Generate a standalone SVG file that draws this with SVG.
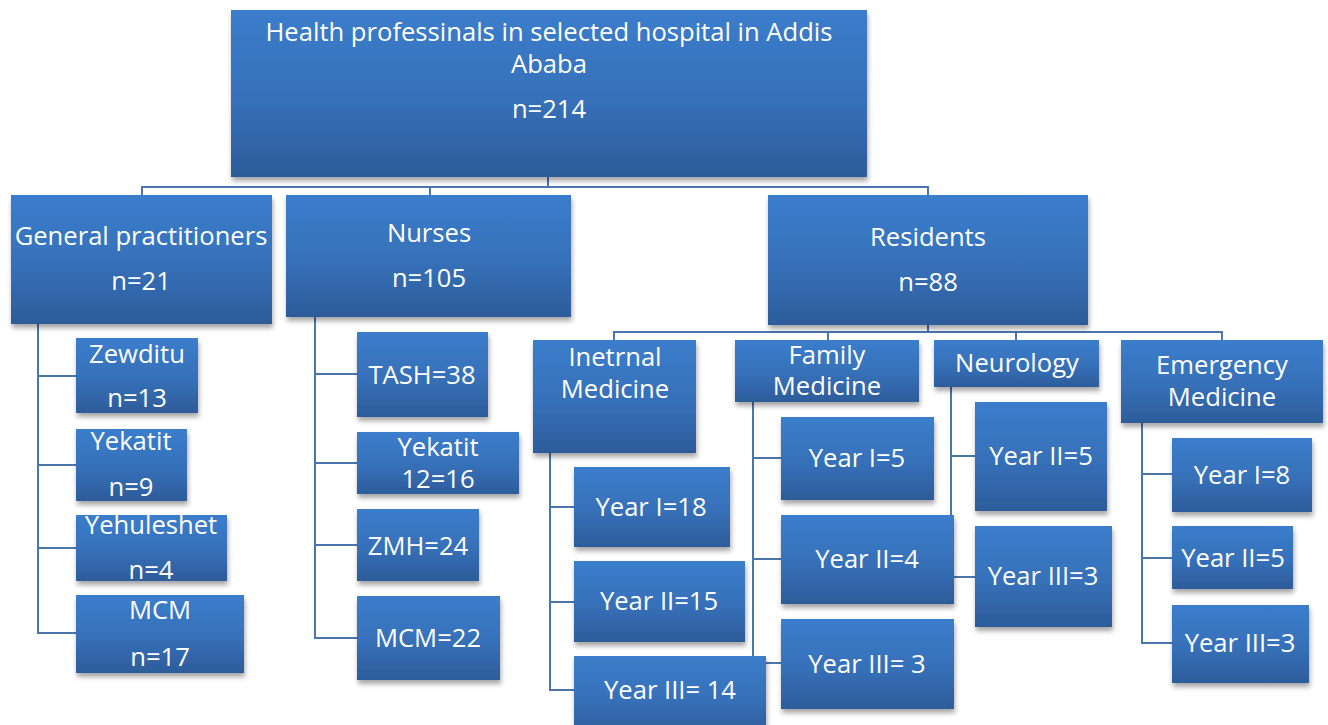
<svg xmlns="http://www.w3.org/2000/svg" width="1328" height="725" viewBox="0 0 1328 725">
<defs>
<linearGradient id="g" x1="0" y1="0" x2="0" y2="1">
<stop offset="0" stop-color="#3B7DCC"/>
<stop offset="0.55" stop-color="#3670B8"/>
<stop offset="1" stop-color="#2D5C9A"/>
</linearGradient>
<filter id="sh" x="-10%" y="-10%" width="125%" height="130%">
<feDropShadow dx="1" dy="4" stdDeviation="2.5" flood-color="#000" flood-opacity="0.35"/>
</filter>
<style>
.b{fill:url(#g);filter:url(#sh)}
.t{font-family:"Open Sans","Noto Sans",sans-serif;font-size:25.6px;fill:#fff;text-anchor:middle}
.c{fill:none;stroke:#4A76AC;stroke-width:2}
</style>
</defs>
<rect width="1328" height="725" fill="#fff"/>
<g id="connectors">
<path class="c" d="M548 177V187M142 195V187H928V195M430 187V195"/>
<path class="c" d="M38 324V633H76M38 376H76M38 465H76M38 548H76"/>
<path class="c" d="M315 317V638H357M315 374H357M315 463H357M315 545H357"/>
<path class="c" d="M928 325V332M614 340V332H1222V340M828 332V340M1016 332V340"/>
<path class="c" d="M550 453V690H574M550 507H574M550 602H574"/>
<path class="c" d="M753 402V663H781M753 458H781M753 559H781"/>
<path class="c" d="M951 387V577H975M951 456H975"/>
<path class="c" d="M1142 423V643H1172M1142 474H1172M1142 558H1172"/>
</g>
<g id="root"><rect class="b" x="231" y="10" width="636" height="167"/>
<text class="t" x="549" y="41">Health professinals in selected hospital in Addis</text>
<text class="t" x="549" y="73">Ababa</text>
<text class="t" x="549" y="118">n=214</text></g>
<g id="gp"><rect class="b" x="11" y="195" width="261" height="129"/>
<text class="t" x="141" y="245">General practitioners</text>
<text class="t" x="141" y="290">n=21</text></g>
<g id="nurses"><rect class="b" x="286" y="195" width="285" height="122"/>
<text class="t" x="429" y="242">Nurses</text>
<text class="t" x="429" y="287">n=105</text></g>
<g id="residents"><rect class="b" x="768" y="195" width="320" height="130"/>
<text class="t" x="928" y="246">Residents</text>
<text class="t" x="928" y="291">n=88</text></g>
<g id="zewditu"><rect class="b" x="76" y="338" width="122" height="75"/>
<text class="t" x="137" y="363">Zewditu</text>
<text class="t" x="137" y="407">n=13</text></g>
<g id="yekatit-gp"><rect class="b" x="76" y="429" width="111" height="72"/>
<text class="t" x="131" y="450">Yekatit</text>
<text class="t" x="131" y="496">n=9</text></g>
<g id="yehuleshet"><rect class="b" x="76" y="515" width="151" height="66"/>
<text class="t" x="151" y="534">Yehuleshet</text>
<text class="t" x="151" y="579">n=4</text></g>
<g id="mcm-gp"><rect class="b" x="76" y="595" width="168" height="78"/>
<text class="t" x="160" y="619">MCM</text>
<text class="t" x="160" y="666">n=17</text></g>
<g id="tash"><rect class="b" x="357" y="332" width="131" height="85"/>
<text class="t" x="422" y="384">TASH=38</text></g>
<g id="yekatit-n"><rect class="b" x="357" y="432" width="162" height="62"/>
<text class="t" x="438" y="456">Yekatit</text>
<text class="t" x="438" y="488">12=16</text></g>
<g id="zmh"><rect class="b" x="357" y="509" width="122" height="72"/>
<text class="t" x="418" y="555">ZMH=24</text></g>
<g id="mcm-n"><rect class="b" x="357" y="596" width="143" height="84"/>
<text class="t" x="428" y="647">MCM=22</text></g>
<g id="internal"><rect class="b" x="533" y="340" width="163" height="113"/>
<text class="t" x="615" y="366">Inetrnal</text>
<text class="t" x="615" y="398">Medicine</text></g>
<g id="family"><rect class="b" x="735" y="340" width="184" height="62"/>
<text class="t" x="827" y="364">Family</text>
<text class="t" x="827" y="395">Medicine</text></g>
<g id="neurology"><rect class="b" x="934" y="340" width="165" height="47"/>
<text class="t" x="1017" y="372">Neurology</text></g>
<g id="emergency"><rect class="b" x="1121" y="340" width="202" height="83"/>
<text class="t" x="1222" y="374">Emergency</text>
<text class="t" x="1222" y="406">Medicine</text></g>
<g id="im1"><rect class="b" x="574" y="467" width="156" height="80"/>
<text class="t" x="651" y="516">Year I=18</text></g>
<g id="im2"><rect class="b" x="574" y="561" width="171" height="81"/>
<text class="t" x="659" y="610">Year II=15</text></g>
<g id="im3"><rect class="b" x="574" y="656" width="192" height="80"/>
<text class="t" x="670" y="699">Year III= 14</text></g>
<g id="fm1"><rect class="b" x="781" y="417" width="153" height="83"/>
<text class="t" x="857" y="467">Year I=5</text></g>
<g id="fm2"><rect class="b" x="781" y="515" width="173" height="89"/>
<text class="t" x="867" y="568">Year II=4</text></g>
<g id="fm3"><rect class="b" x="781" y="619" width="173" height="90"/>
<text class="t" x="867" y="673">Year III= 3</text></g>
<g id="ne2"><rect class="b" x="975" y="402" width="132" height="109"/>
<text class="t" x="1041" y="465">Year II=5</text></g>
<g id="ne3"><rect class="b" x="975" y="526" width="137" height="101"/>
<text class="t" x="1043" y="585">Year III=3</text></g>
<g id="em1"><rect class="b" x="1172" y="438" width="140" height="74"/>
<text class="t" x="1242" y="484">Year I=8</text></g>
<g id="em2"><rect class="b" x="1172" y="526" width="121" height="63"/>
<text class="t" x="1233" y="567">Year II=5</text></g>
<g id="em3"><rect class="b" x="1172" y="605" width="137" height="78"/>
<text class="t" x="1240" y="652">Year III=3</text></g>
</svg>
